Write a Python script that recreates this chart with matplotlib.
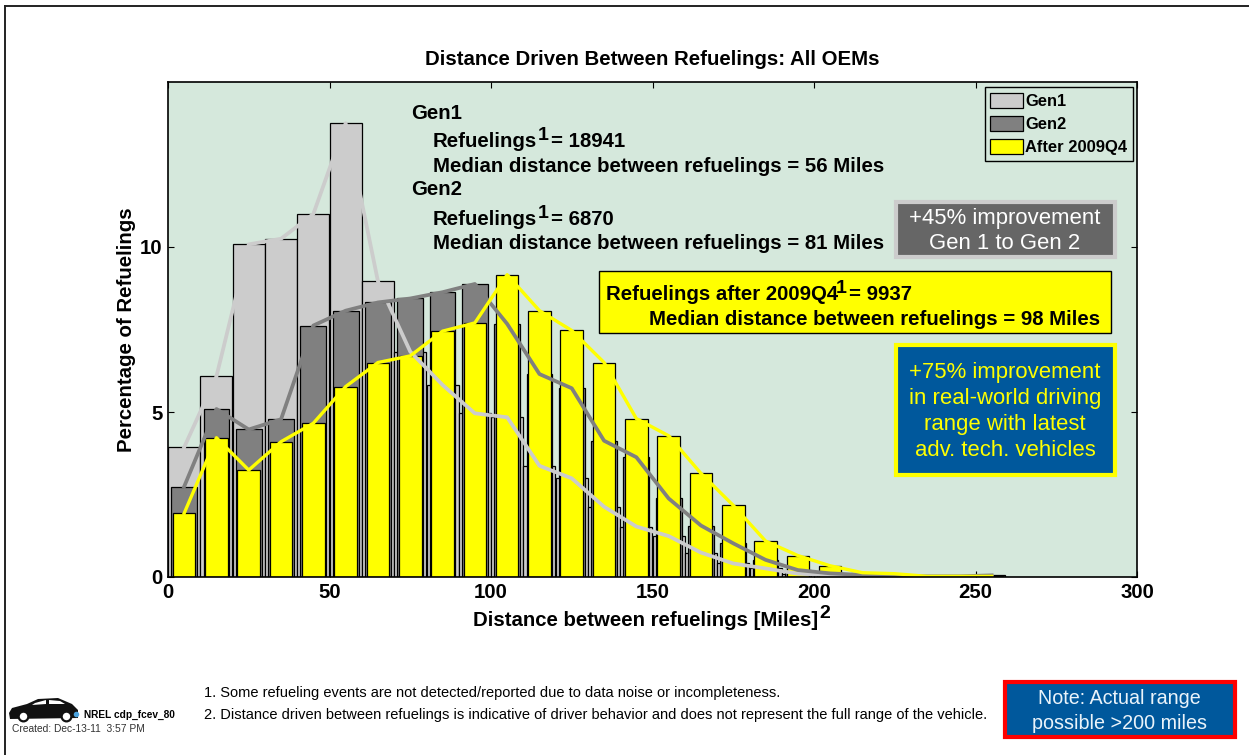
import matplotlib
matplotlib.use("Agg")
import matplotlib.pyplot as plt
from matplotlib.lines import Line2D
from matplotlib.patches import Patch, Polygon, Rectangle

plt.rcParams['font.family'] = ['Liberation Sans', 'DejaVu Sans']

W, H = 1249, 755

bin_centers = [5, 15, 25, 35, 45, 55, 65, 75, 85, 95, 105, 115, 125, 135, 145, 155,
               165, 175, 185, 195, 205, 215, 225, 235, 245, 255]
gen1 = [3.93, 6.08, 10.08, 10.25, 11.0, 13.75, 8.96, 6.83, 5.82, 4.96, 4.84, 3.37, 2.99,
        2.13, 1.53, 1.24, 0.74, 0.41, 0.26, 0.1, 0.05, 0.03, 0.02, 0.01, 0.01, 0.01]
gen2 = [2.74, 5.09, 4.47, 4.78, 7.62, 8.07, 8.32, 8.44, 8.63, 8.88, 7.67, 6.15, 5.72,
        4.13, 3.63, 2.38, 1.56, 1.02, 0.52, 0.21, 0.11, 0.06, 0.03, 0.02, 0.02, 0.05]
after_2009q4 = [1.93, 4.22, 3.24, 4.1, 4.66, 5.77, 6.5, 6.7, 7.45, 7.7, 9.16, 8.07, 7.47,
                6.5, 4.8, 4.28, 3.14, 2.17, 1.09, 0.65, 0.34, 0.13, 0.1, 0.02, 0.02, 0.02]

xticks = [0, 50, 100, 150, 200, 250, 300]
yticks = [0, 5, 10]

GEN1_C = '#cccccc'
GEN2_C = '#808080'
YEL = '#ffff00'
BG = '#d5e8dc'
BLUE = '#00589c'
BIG = 14.7
SUP = 14


def fx(x):
    return x / W


def fy(y):
    return 1 - y / H


def label(x, y, s, size, **kw):
    # x, y are pixels from top left of the image
    kw.setdefault('color', 'black')
    kw.setdefault('va', 'center')
    kw.setdefault('zorder', 8)
    fig.text(fx(x), fy(y + 1.5), s, fontsize=size, **kw)


def bold(x, y, s, size=BIG):
    label(x, y, s, size, fontweight='bold')


def box(x0, y0, x1, y1, fc, ec, lw):
    fig.add_artist(Rectangle((fx(x0), fy(y1)), (x1 - x0) / W, (y1 - y0) / H, facecolor=fc,
                             edgecolor=ec, linewidth=lw, transform=fig.transFigure, zorder=6))


fig = plt.figure(figsize=(W / 100, H / 100), dpi=100, facecolor='white')
ax = fig.add_axes([fx(168), fy(577), (1137 - 168) / W, (577 - 82) / H], facecolor=BG)

ax.bar(bin_centers, gen1, width=9.9, color=GEN1_C, edgecolor='black', linewidth=0.9, zorder=2)
ax.bar(bin_centers, gen2, width=8, color=GEN2_C, edgecolor='black', linewidth=0.9, zorder=3)
ax.bar(bin_centers, after_2009q4, width=7, color=YEL, edgecolor='black', linewidth=0.9, zorder=4)
ax.plot(bin_centers, gen1, color=GEN1_C, lw=2.7, zorder=5, solid_joinstyle='round')
ax.plot(bin_centers, gen2, color=GEN2_C, lw=2.7, zorder=6, solid_joinstyle='round')
ax.plot(bin_centers, after_2009q4, color=YEL, lw=2.4, zorder=7, solid_joinstyle='round')

ax.set_xlim(0, 300)
ax.set_ylim(0, 15)
ax.set_xticks(xticks)
ax.set_yticks(yticks)
ax.tick_params(direction='in', length=4, width=0.8, top=True, right=True, pad=4, labelsize=14.7)
for t in ax.get_xticklabels() + ax.get_yticklabels():
    t.set_fontweight('bold')
for s in ax.spines.values():
    s.set_linewidth(1.2)
    s.set_zorder(9)

ax.set_xlabel('Distance between refuelings [Miles]', fontsize=BIG, fontweight='bold')
ax.xaxis.set_label_coords((646 - 168) / 969, -(620 - 577) / 495, transform=ax.transAxes)
ax.xaxis.label.set_va('center')
ax.set_ylabel('Percentage of Refuelings', fontsize=BIG, fontweight='bold')
ax.yaxis.set_label_coords((126 - 168) / 969, 0.5)
ax.yaxis.label.set_va('center')
ax.set_title('Distance Driven Between Refuelings: All OEMs', fontsize=BIG, fontweight='bold', pad=12)
bold(819, 612, '2', SUP)

handles = [Patch(facecolor=GEN1_C, edgecolor='black', linewidth=0.9),
           Patch(facecolor=GEN2_C, edgecolor='black', linewidth=0.9),
           Patch(facecolor=YEL, edgecolor='black', linewidth=0.9)]
leg = ax.legend(handles, ['Gen1', 'Gen2', 'After 2009Q4'], loc='upper right',
                bbox_to_anchor=(fx(1133), fy(87)), bbox_transform=fig.transFigure,
                fancybox=False, framealpha=1, facecolor=BG, edgecolor='black', borderaxespad=0,
                prop={'size': 11.9, 'weight': 'bold'}, handlelength=1.95, handleheight=1.0,
                handletextpad=0.15, borderpad=0.35, labelspacing=0.42)
leg.get_frame().set_linewidth(1)
leg.set_zorder(10)

# text block on the chart
bold(411, 112, 'Gen1')
bold(433, 140, 'Refuelings')
bold(538, 134, '1', SUP)
bold(551, 140, '= 18941')
bold(433, 165, 'Median distance between refuelings = 56 Miles')
bold(411, 188, 'Gen2')
bold(433, 218, 'Refuelings')
bold(538, 212, '1', SUP)
bold(551, 218, '= 6870')
bold(433, 242, 'Median distance between refuelings = 81 Miles')

box(896, 202, 1115, 257, '#666666', GEN1_C, 3)
label(1005, 217, '+45% improvement', 15.9, color='white', ha='center')
label(1005, 242, 'Gen 1 to Gen 2', 15.9, color='white', ha='center')

box(599, 271, 1111, 333, YEL, 'black', 1)
bold(606, 293, 'Refuelings after 2009Q4')
bold(836, 287, '1', SUP)
bold(849, 293, '= 9937')
bold(649, 318, 'Median distance between refuelings = 98 Miles')

box(896, 345, 1115, 475, BLUE, YEL, 3)
label(1005, 371, '+75% improvement', 15.9, color=YEL, ha='center')
label(1005, 397, 'in real-world driving', 15.9, color=YEL, ha='center')
label(1005, 423, 'range with latest', 15.9, color=YEL, ha='center')
label(1005, 449, 'adv. tech. vehicles', 15.9, color=YEL, ha='center')

# footer
label(204, 692, '1. Some refueling events are not detected/reported due to data noise or incompleteness.', 10.57)
label(204, 714, '2. Distance driven between refuelings is indicative of driver behavior and does not represent the full range of the vehicle.', 10.57)

box(1005, 682, 1235, 737, BLUE, '#ff0000', 3)
label(1119, 697, 'Note: Actual range', 14.2, color='#eaf3fa', ha='center')
label(1119, 722, 'possible >200 miles', 14.2, color='#eaf3fa', ha='center')

label(84, 713, 'NREL cdp_fcev_80', 7.3, fontweight='bold')
label(12, 728, 'Created: Dec-13-11  3:57 PM', 7.4, color='#333333')

# car icon
car_px = [(9, 713), (12, 708), (27, 704), (38, 699), (58, 698), (72, 704), (78, 710),
          (78, 718), (10, 719)]
fig.add_artist(Polygon([(fx(x), fy(y)) for x, y in car_px], closed=True, facecolor='#111111',
                       edgecolor='none', transform=fig.transFigure, zorder=7))
win_px = [(35, 703), (46, 700), (46, 704), (32, 705)]
fig.add_artist(Polygon([(fx(x), fy(y)) for x, y in win_px], closed=True, facecolor='white',
                       edgecolor='none', transform=fig.transFigure, zorder=8))
win2_px = [(49, 700), (60, 701), (65, 704), (49, 704)]
fig.add_artist(Polygon([(fx(x), fy(y)) for x, y in win2_px], closed=True, facecolor='white',
                       edgecolor='none', transform=fig.transFigure, zorder=8))
for cx in (23, 66):
    fig.add_artist(Line2D([fx(cx)], [fy(716)], marker='o', ms=7, mfc='white', mec='#111111', mew=1.6,
                          transform=fig.transFigure, zorder=9))
fig.add_artist(Line2D([fx(76)], [fy(714)], marker='o', ms=4, mfc='#4aa3df', mec='none',
                      transform=fig.transFigure, zorder=9))

# page frame
fig.add_artist(Line2D([fx(5), fx(5)], [0, fy(6)], color='#222222', lw=1.4, transform=fig.transFigure))
fig.add_artist(Line2D([fx(5), 1], [fy(6), fy(6)], color='#222222', lw=1.4, transform=fig.transFigure))

fig.savefig('out.png', dpi=100)
